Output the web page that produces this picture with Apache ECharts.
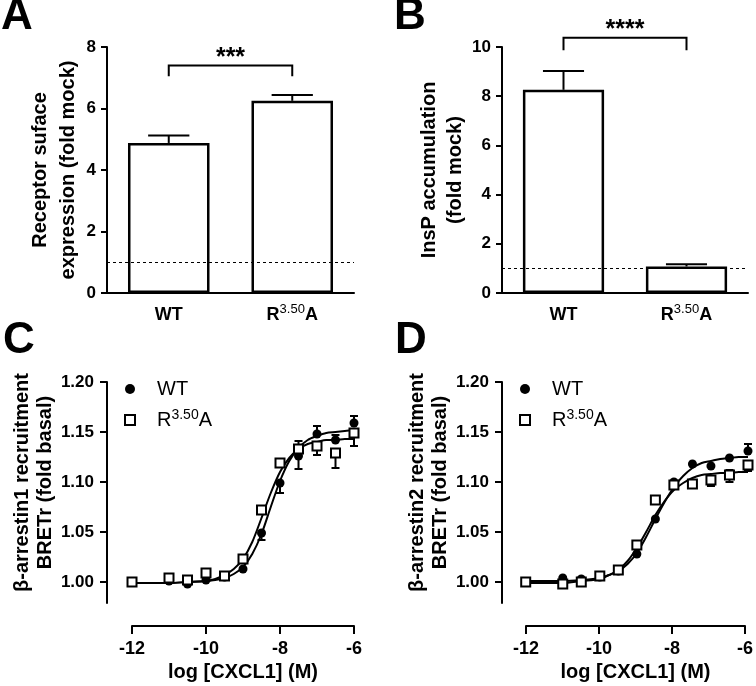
<!DOCTYPE html>
<html>
<head>
<meta charset="utf-8">
<script src="https://cdn.jsdelivr.net/npm/echarts@6/dist/echarts.min.js"></script>
<style>html,body{margin:0;padding:0;background:#fff}#c{width:756px;height:686px}</style>
</head>
<body>
<div id="c"></div>
<script>
// ---------- data ----------
const barCategories = ['WT', 'R3.50A'];
const surfaceMean = [4.88, 6.25];
const surfaceSem = [0.24, 0.19];
const inspMean = [8.26, 1.08];
const inspSem = [0.76, 0.09];

const logConc = [-12, -11, -10.5, -10, -9.5, -9, -8.5, -8, -7.5, -7, -6.5, -6];
// panel C (beta-arrestin1)
const arr1WT = [1.000, 1.001, 0.998, 1.002, 1.005, 1.013, 1.049, 1.099, 1.126, 1.148, 1.142, 1.159];
const arr1WTLo = [0, 0, 0, 0, 0, 0, 0.007, 0.010, 0.013, 0, 0, 0];
const arr1WTHi = [0, 0, 0, 0, 0, 0, 0, 0, 0, 0.008, 0.005, 0.007];
const arr1R = [1.000, 1.004, 1.002, 1.009, 1.006, 1.023, 1.072, 1.119, 1.133, 1.136, 1.129, 1.149];
const arr1RLo = [0, 0, 0, 0, 0, 0, 0, 0, 0, 0.009, 0.015, 0.013];
const arr1RHi = [0, 0, 0, 0, 0, 0, 0, 0, 0.008, 0, 0, 0];
// panel D (beta-arrestin2)
const arr2WT = [1.000, 1.004, 1.003, 1.005, 1.011, 1.028, 1.063, 1.100, 1.118, 1.116, 1.124, 1.131];
const arr2WTLo = [0, 0, 0, 0, 0, 0, 0, 0, 0, 0, 0, 0];
const arr2WTHi = [0, 0, 0, 0, 0, 0, 0, 0, 0, 0, 0, 0.007];
const arr2R = [1.000, 0.998, 1.000, 1.006, 1.012, 1.037, 1.082, 1.097, 1.098, 1.102, 1.107, 1.117];
const arr2RLo = [0, 0, 0, 0, 0, 0, 0, 0, 0, 0.006, 0.007, 0.006];
const arr2RHi = [0, 0, 0, 0, 0, 0, 0, 0, 0, 0, 0.005, 0];

// fitted curves
const fitX = [-12, -11, -10.5, -10, -9.75, -9.5, -9.25, -9, -8.75, -8.5, -8.25, -8, -7.75, -7.5, -7.25, -7, -6.75, -6.5, -6.25, -6];
const fit1WT = [0.999, 0.999, 1.000, 1.001, 1.002, 1.004, 1.008, 1.015, 1.028, 1.048, 1.075, 1.101, 1.121, 1.134, 1.142, 1.146, 1.149, 1.150, 1.151, 1.152];
const fit1R = [0.999, 0.999, 1.000, 1.001, 1.003, 1.007, 1.013, 1.023, 1.040, 1.064, 1.089, 1.110, 1.124, 1.133, 1.138, 1.140, 1.142, 1.142, 1.143, 1.143];
const fit2WT = [1.001, 1.001, 1.002, 1.004, 1.007, 1.011, 1.018, 1.029, 1.045, 1.063, 1.080, 1.095, 1.106, 1.114, 1.119, 1.121, 1.123, 1.124, 1.125, 1.125];
const fit2R = [0.999, 0.999, 1.001, 1.003, 1.007, 1.012, 1.021, 1.034, 1.050, 1.067, 1.081, 1.092, 1.099, 1.104, 1.107, 1.108, 1.109, 1.109, 1.110, 1.110];

const brTicks = [1.00, 1.05, 1.10, 1.15, 1.20];

// ---------- helpers ----------
const FONT = "'Liberation Sans', Arial, Helvetica, sans-serif";
function richName(s, tag) {
  const m = s.match(/^([A-Za-z]+)(\d+\.\d+)([A-Za-z]+)$/);
  if (!m) return '{' + tag + '|' + s + '}';
  return '{' + tag + '|' + m[1] + '}{s|' + m[2] + '}{' + tag + '|' + m[3] + '}';
}
const zip = (xs, ys, lo, hi) => xs.map((x, i) => [x, ys[i], lo[i], hi[i]]);
const pairs = (xs, ys) => xs.map((x, i) => [x, ys[i]]);

function errRender(capHalf) {
  return function (params, api) {
    const x = api.value(0), y = api.value(1), lo = api.value(2), hi = api.value(3);
    const c = api.coord([x, y]);
    const half = capHalf === 'band' ? api.size([1, 0])[0] * 0.167 : capHalf;
    const style = { stroke: '#000', lineWidth: 2 };
    const ch = [];
    [[hi, 1], [lo, -1]].forEach(([e, d]) => {
      if (e > 0) {
        const t = api.coord([x, y + d * e]);
        ch.push({ type: 'line', shape: { x1: c[0], y1: c[1], x2: t[0], y2: t[1] }, style });
        ch.push({ type: 'line', shape: { x1: t[0] - half, y1: t[1], x2: t[0] + half, y2: t[1] }, style });
      }
    });
    return { type: 'group', children: ch };
  };
}
function bracketRender(top, leg, text) {
  return function (params, api) {
    const a = api.coord([0, leg]), b = api.coord([0, top]), c = api.coord([1, top]), d = api.coord([1, leg]);
    return {
      type: 'group', children: [
        { type: 'polyline', shape: { points: [a, b, c, d] }, style: { stroke: '#000', lineWidth: 2, fill: null } },
        { type: 'text', style: { text: text, x: (b[0] + c[0]) / 2, y: b[1] + 5, align: 'center', verticalAlign: 'bottom', font: 'bold 25px ' + FONT, fill: '#000' } }
      ]
    };
  };
}

const axisLine = { show: true, lineStyle: { color: '#000', width: 2 } };
const richBase = {
  b: { fontSize: 18, fontWeight: 'bold', fontFamily: FONT, color: '#000', lineHeight: 24 },
  s: { fontSize: 13, fontFamily: FONT, color: '#000', verticalAlign: 'top', lineHeight: 13 }
};
function catX(grid) {
  return {
    type: 'category', gridIndex: grid, data: barCategories,
    axisLine, axisTick: { alignWithLabel: true, length: 5, lineStyle: { width: 2, color: '#000' } },
    axisLabel: { margin: 10, formatter: v => richName(v, 'b'), rich: richBase }
  };
}
function valY(grid, max, name, gap, lh) {
  return {
    type: 'value', gridIndex: grid, min: 0, max: max, interval: 2,
    axisLine, splitLine: { show: false },
    axisTick: { show: true, length: 6, lineStyle: { width: 2, color: '#000' } },
    axisLabel: { margin: 11, fontSize: 17, fontWeight: 'bold', fontFamily: FONT, color: '#000' },
    name: name, nameLocation: 'middle', nameRotate: 90, nameGap: gap,
    nameTextStyle: { fontSize: 20, fontWeight: 'bold', fontFamily: FONT, color: '#000', lineHeight: lh }
  };
}
function brY(grid, name, gap) {
  return {
    type: 'value', gridIndex: grid, min: 0.979, max: 1.2,
    axisLine, splitLine: { show: false },
    axisTick: { show: true, length: 7, customValues: brTicks, lineStyle: { width: 2, color: '#000' } },
    axisLabel: { margin: 13, customValues: brTicks, formatter: v => v.toFixed(2), fontSize: 17, fontWeight: 'bold', fontFamily: FONT, color: '#000' },
    name: name, nameLocation: 'middle', nameRotate: 90, nameGap: gap,
    nameTextStyle: { fontSize: 20, fontWeight: 'bold', fontFamily: FONT, color: '#000', lineHeight: 23, padding: [0, 0, 0, 20] }
  };
}
function logXAxis(grid) {
  return {
    type: 'value', gridIndex: grid, min: -12, max: -6, interval: 2,
    axisLine, splitLine: { show: false },
    axisTick: { show: true, length: 8, lineStyle: { width: 2, color: '#000' } },
    axisLabel: { margin: 14, fontSize: 18, fontWeight: 'bold', fontFamily: FONT, color: '#000' },
    name: 'log [CXCL1] (M)', nameLocation: 'middle', nameGap: 36,
    nameTextStyle: { fontSize: 20, fontWeight: 'bold', fontFamily: FONT, color: '#000' }
  };
}
const hiddenX = (grid, min) => ({ type: 'value', gridIndex: grid, min: min, max: -6, show: false });
const hiddenY = grid => ({ type: 'value', gridIndex: grid, min: 0, max: 1, show: false });

function barSeries(grid, vals) {
  return {
    type: 'bar', xAxisIndex: grid, yAxisIndex: grid, data: vals, barWidth: '66%', z: 2,
    itemStyle: { color: '#fff', borderColor: '#000', borderWidth: 2.5 },
    markLine: {
      silent: true, symbol: 'none', label: { show: false },
      lineStyle: { color: '#000', type: [3, 3], width: 1.2 }, data: [{ yAxis: 1 }]
    }
  };
}
function curve(ax, ys) {
  return {
    type: 'line', name: 'fit', xAxisIndex: ax, yAxisIndex: ax, data: pairs(fitX, ys), smooth: 0.3,
    showSymbol: false, lineStyle: { color: '#000', width: 2 }, z: 2, silent: true
  };
}
function errs(ax, data) {
  return { type: 'custom', xAxisIndex: ax, yAxisIndex: ax, data: data, renderItem: errRender(4), z: 3, silent: true, clip: false };
}
function pts(ax, name, ys, square) {
  return {
    type: 'scatter', name: name, xAxisIndex: ax, yAxisIndex: ax, data: pairs(logConc, ys),
    symbol: square ? 'rect' : 'circle', symbolSize: 9, z: square ? 5 : 4,
    itemStyle: square ? { color: '#fff', borderColor: '#000', borderWidth: 2, opacity: 1 } : { color: '#000', opacity: 1 }
  };
}
function legendAt(left) {
  return {
    data: ['WT', 'R3.50A'], left: left, top: 379, orient: 'vertical', itemWidth: 10, itemHeight: 10, itemGap: 9,
    padding: 0, selectedMode: false,
    formatter: n => richName(n, 'n'),
    textStyle: {
      padding: [0, 0, 0, 17],
      rich: {
        n: { fontSize: 20, fontFamily: FONT, color: '#000', lineHeight: 24 },
        s: { fontSize: 14, fontFamily: FONT, color: '#000', verticalAlign: 'top', lineHeight: 14 }
      }
    }
  };
}
const letter = (t, left, top) => ({ text: t, left: left, top: top, padding: 0, textStyle: { fontSize: 44, fontWeight: 'bold', fontFamily: FONT, color: '#000' } });

const option = {
  animation: false,
  backgroundColor: '#fff',
  title: [letter('A', 1, -5), letter('B', 394, -5), letter('C', 3, 319), letter('D', 395, 319)],
  legend: [legendAt(124), legendAt(519)],
  grid: [
    { left: 107, top: 47, width: 247, height: 246 },
    { left: 502, top: 47, width: 246, height: 246 },
    { left: 107, top: 382, width: 247, height: 221 },
    { left: 132, top: 382, width: 222, height: 244 },
    { left: 502, top: 382, width: 246, height: 221 },
    { left: 526, top: 382, width: 222, height: 244 }
  ],
  xAxis: [catX(0), catX(1), hiddenX(2, -12.676), logXAxis(3), hiddenX(4, -12.64), logXAxis(5)],
  yAxis: [
    valY(0, 8, 'Receptor suface\nexpression (fold mock)', 20, 28),
    valY(1, 10, 'InsP accumulation\n(fold mock)', 31, 26),
    brY(2, 'β-arrestin1 recruitment\nBRETr (fold basal)', 33),
    hiddenY(3),
    brY(4, 'β-arrestin2 recruitment\nBRETr (fold basal)', 50),
    hiddenY(5)
  ],
  series: [
    barSeries(0, surfaceMean),
    { type: 'custom', xAxisIndex: 0, yAxisIndex: 0, data: surfaceMean.map((v, i) => [i, v, 0, surfaceSem[i]]), renderItem: errRender('band'), z: 3, clip: false },
    { type: 'custom', xAxisIndex: 0, yAxisIndex: 0, data: [[0, 0]], renderItem: bracketRender(7.4, 7.05, '***'), z: 3, clip: false },
    barSeries(1, inspMean),
    { type: 'custom', xAxisIndex: 1, yAxisIndex: 1, data: inspMean.map((v, i) => [i, v, 0, inspSem[i]]), renderItem: errRender('band'), z: 3, clip: false },
    { type: 'custom', xAxisIndex: 1, yAxisIndex: 1, data: [[0, 0]], renderItem: bracketRender(10.38, 9.87, '****'), z: 3, clip: false },

    curve(2, fit1WT), curve(2, fit1R),
    errs(2, zip(logConc, arr1WT, arr1WTLo, arr1WTHi)), errs(2, zip(logConc, arr1R, arr1RLo, arr1RHi)),
    pts(2, 'WT', arr1WT, false), pts(2, 'R3.50A', arr1R, true),

    curve(4, fit2WT), curve(4, fit2R),
    errs(4, zip(logConc, arr2WT, arr2WTLo, arr2WTHi)), errs(4, zip(logConc, arr2R, arr2RLo, arr2RHi)),
    pts(4, 'WT', arr2WT, false), pts(4, 'R3.50A', arr2R, true)
  ]
};
const chart = echarts.init(document.getElementById('c'), null, { renderer: 'canvas' });
chart.setOption(option);
</script>
</body>
</html>
